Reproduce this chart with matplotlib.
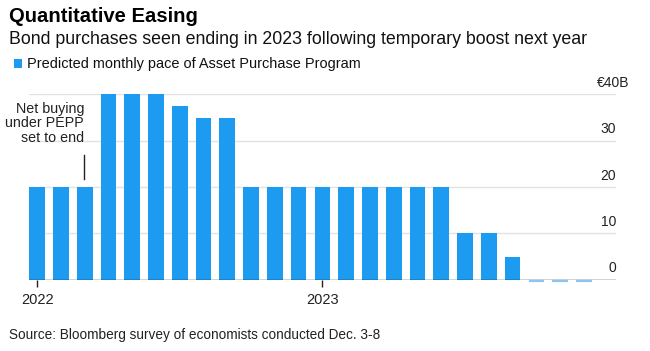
import matplotlib
matplotlib.use("Agg")
import matplotlib.pyplot as plt
import numpy as np

plt.rcParams['font.family'] = ['Liberation Sans', 'DejaVu Sans']

# ---- data ----
months = ["Jan 2022", "Feb 2022", "Mar 2022", "Apr 2022", "May 2022", "Jun 2022",
          "Jul 2022", "Aug 2022", "Sep 2022", "Oct 2022", "Nov 2022", "Dec 2022",
          "Jan 2023", "Feb 2023", "Mar 2023", "Apr 2023", "May 2023", "Jun 2023",
          "Jul 2023", "Aug 2023", "Sep 2023", "Oct 2023", "Nov 2023", "Dec 2023"]
app_pace = [20, 20, 20, 40, 40, 40, 37.5, 35, 35, 20, 20, 20,
            20, 20, 20, 20, 20, 20, 10, 10, 5, 0, 0, 0]
year_ticks = [0, 12]
year_labels = ["2022", "2023"]
y_ticks = [0, 10, 20, 30, 40]
y_labels = ["0", "10", "20", "30", "€40B"]

title = "Quantitative Easing"
subtitle = "Bond purchases seen ending in 2023 following temporary boost next year"
legend_label = "Predicted monthly pace of Asset Purchase Program"
source = "Source: Bloomberg survey of economists conducted Dec. 3-8"
note = "Net buying\nunder PEPP\nset to end"
note_month = 2

BLUE = "#1d9bf0"
LIGHT = "#8cc6f2"

W, H = 650, 351
fig = plt.figure(figsize=(6.5, 3.51), dpi=100)

def fx(px):
    return px / W

def fy(py):
    return 1 - py / H

ax_left, ax_right = 29.3, 616.0
ax_bottom, ax_top = 279.9, 94.3
ax = fig.add_axes([fx(ax_left), fy(ax_bottom), fx(ax_right - ax_left), (ax_bottom - ax_top) / H])

x = np.arange(len(months))
vals = np.array(app_pace, dtype=float)
bw = 0.66
nonzero = vals > 0
ax.bar(x[nonzero], vals[nonzero], width=bw, color=BLUE, zorder=2, linewidth=0)
zb = ax.bar(x[~nonzero], vals[~nonzero], width=bw, color=LIGHT, edgecolor=LIGHT,
            linewidth=1.6, zorder=1, bottom=-0.3)
for p in zb:
    p.set_clip_on(False)

ax.set_xlim(-bw / 2, 24.35)
ax.set_ylim(0, 40)

for v in y_ticks[1:]:
    ax.axhline(v, color="#e3e3e3", linewidth=1.0, zorder=0)
ax.axhline(0, color="#222222", linewidth=1.0, zorder=3)

for s in ax.spines.values():
    s.set_visible(False)
ax.set_yticks([])
ax.set_xticks(year_ticks)
ax.set_xticklabels(year_labels, fontsize=10.5, color="#222222")
ax.tick_params(axis="x", length=5, width=1, color="#222222", pad=4.5)

# y labels on right, above gridlines
ppu = (ax_bottom - ax_top) / 40.0
for v, lab in zip(y_ticks, y_labels):
    if lab.startswith("€"):
        xr = (629.0 - ax_left) / (ax_right - ax_left)
    else:
        xr = 1.0
    ax.text(xr, v + 7.4 / ppu, lab, transform=ax.get_yaxis_transform(),
            ha="right", va="baseline", fontsize=10, color="#222222")

# annotation
ax.text(note_month - 0.02, (ax_bottom - 123.5) / ppu, note, ha="right", va="center",
        multialignment="right", fontsize=10.3, color="#222222", linespacing=1.05)
ax.plot([note_month - 0.02, note_month - 0.02], [(ax_bottom - 179) / ppu, (ax_bottom - 155) / ppu],
        color="#222222", linewidth=1.0, zorder=4)

# header texts
t_title = fig.text(fx(9.3), fy(22), title, fontsize=14.5, fontweight="bold",
                   ha="left", va="baseline", color="#000000")
t_sub = fig.text(fx(9.0), fy(44.3), subtitle, fontsize=12, ha="left", va="baseline",
                 color="#111111")
t_leg = fig.text(fx(26.7), fy(68.0), legend_label, fontsize=10, ha="left", va="baseline",
                 color="#111111")
fig.patches.append(plt.Rectangle((fx(14), fy(68)), fx(8), 9 / H, transform=fig.transFigure,
                                 facecolor=BLUE, edgecolor="none"))
t_src = fig.text(fx(9.3), fy(339), source, fontsize=9, ha="left", va="baseline",
                 color="#222222")

fig.canvas.draw()
r = fig.canvas.get_renderer()
for t, target in [(t_title, 189), (t_sub, 580), (t_leg, 334), (t_src, 370)]:
    w = t.get_window_extent(r).width
    t.set_fontsize(t.get_fontsize() * target / w)

fig.savefig("out.png", dpi=100, facecolor="white")
